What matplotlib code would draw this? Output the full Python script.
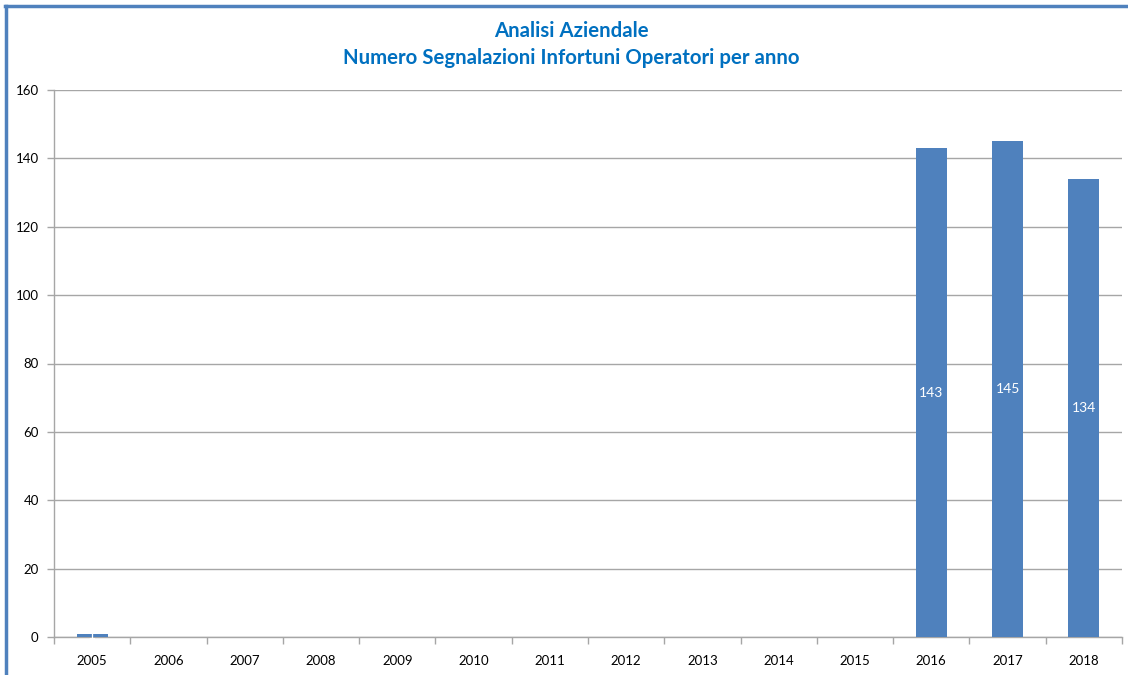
import matplotlib
matplotlib.use("Agg")
import matplotlib.pyplot as plt
from matplotlib.lines import Line2D
import numpy as np

years = ["2005", "2006", "2007", "2008", "2009", "2010", "2011", "2012",
         "2013", "2014", "2015", "2016", "2017", "2018"]
values = [1, 0, 0, 0, 0, 0, 0, 0, 0, 0, 0, 143, 145, 134]
labels = ["1", "", "", "", "", "", "", "", "", "", "", "143", "145", "134"]

plt.rcParams['font.family'] = ['Lato', 'DejaVu Sans']

W, H = 1128, 675
fig = plt.figure(figsize=(W / 100, H / 100), dpi=100)
ax = fig.add_axes([54 / W, 1 - 637 / H, (1122 - 54) / W, (637 - 90) / H])

x = np.arange(len(years))
bar_color = "#4F81BD"
bars = ax.bar(x, values, width=0.41, color=bar_color, zorder=3)
for xi, v, lab in zip(x, values, labels):
    if lab:
        ax.text(xi, v / 2, lab, ha="center", va="center", color="white",
                fontsize=10, zorder=4)

ax.set_xlim(-0.5, len(years) - 0.5)
ax.set_ylim(0, 160)
ax.set_yticks(np.arange(0, 161, 20))
ax.yaxis.grid(True, color="#A6A6A6", linewidth=1.0, zorder=0)
ax.set_axisbelow(True)

ax.set_xticks(x)
ax.set_xticklabels(years, fontsize=9.5)
ax.set_xticks(np.arange(-0.5, len(years), 1), minor=True)
ax.tick_params(axis="x", which="major", length=0, pad=13)
ax.tick_params(axis="x", which="minor", length=5, color="#A6A6A6", width=1)
ax.tick_params(axis="y", length=5, color="#A6A6A6", width=1, labelsize=9.5, pad=6)

for s in ["top", "right"]:
    ax.spines[s].set_visible(False)
for s in ["left", "bottom"]:
    ax.spines[s].set_color("#A6A6A6")
    ax.spines[s].set_linewidth(1.0)

fig.text(571 / W, 1 - 31 / H, "Analisi Aziendale", ha="center", va="center",
         color="#0070C0", fontsize=14.7, fontweight="bold")
fig.text(571 / W, 1 - 58 / H, "Numero Segnalazioni Infortuni Operatori per anno",
         ha="center", va="center", color="#0070C0", fontsize=14.7, fontweight="bold")

border = "#4F81BD"
fig.add_artist(Line2D([5.5 / W, 5.5 / W], [0, 1 - 5.5 / H], transform=fig.transFigure,
                      color=border, linewidth=2.5))
fig.add_artist(Line2D([4.5 / W, 1], [1 - 5.5 / H, 1 - 5.5 / H], transform=fig.transFigure,
                      color=border, linewidth=2.5))

fig.savefig("out.png", dpi=100)
